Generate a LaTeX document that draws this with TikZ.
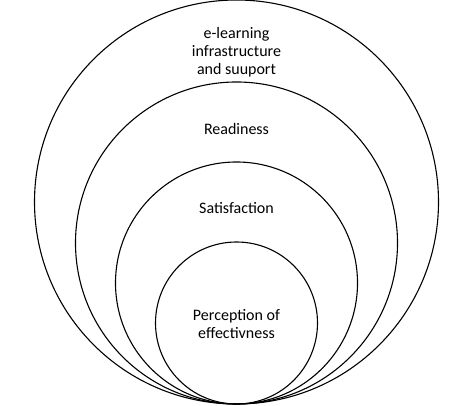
\documentclass[tikz,border=0pt]{standalone}
\usepackage{fontspec}
\setmainfont{Carlito}
\begin{document}
\begin{tikzpicture}[x=1pt,y=1pt,
  ring/.style={draw=black,line width=1.1pt},
  lbl/.style={align=center,font=\fontsize{16}{18}\selectfont,inner sep=0pt}]
\useasboundingbox (0,0) rectangle (474,406);
\coordinate (t) at (236.5,2);
\draw[ring] (236.5,204) circle[radius=202];
\draw[ring] (236.5,163) circle[radius=161];
\draw[ring] (236.5,123) circle[radius=121];
\draw[ring] (236.5,83) circle[radius=81];
\node[lbl] (l1) at (236.5,354) {e-learning\\infrastructure\\and suuport};
\node[lbl] (l2) at (236.5,277) {Readiness};
\node[lbl] (l3) at (236.5,198) {Satisfaction};
\node[lbl] (l4) at (236.5,82) {Perception of\\effectivness};
\end{tikzpicture}
\end{document}
